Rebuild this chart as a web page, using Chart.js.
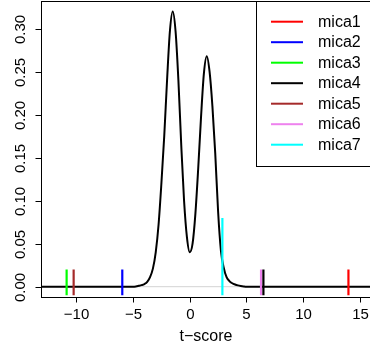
<!DOCTYPE html>
<html>
<head>
<meta charset="utf-8">
<script src="https://cdn.jsdelivr.net/npm/chart.js@4"></script>
<style>
  html, body { margin: 0; padding: 0; background: #fff; overflow: hidden; width: 370px; height: 349px; }
  #wrap { width: 380px; height: 349px; }
</style>
</head>
<body>
<div id="wrap"><canvas id="tChart" width="380" height="349"></canvas></div>
<script>
// densité des t-scores
const densX = [-14, -5, -4.75, -4.5, -4.25, -4, -3.75, -3.5, -3.25, -3, -2.75, -2.5, -2.25, -2, -1.75, -1.5,
  -1.25, -1, -0.75, -0.5, -0.25, 0, 0.25, 0.5, 0.75, 1, 1.25, 1.5, 1.75, 2, 2.25, 2.5, 2.75, 3, 3.25, 3.5,
  3.75, 4, 4.25, 4.5, 4.75, 5, 17];
const densY = [0, 0, 0.0003, 0.001, 0.0018, 0.003, 0.0055, 0.011, 0.021, 0.040, 0.072, 0.12, 0.175, 0.24, 0.297, 0.32,
  0.297, 0.24, 0.165, 0.10, 0.058, 0.040, 0.05, 0.085, 0.138, 0.198, 0.248, 0.268, 0.25, 0.21, 0.155, 0.088, 0.042, 0.022, 0.011, 0.0065,
  0.004, 0.0025, 0.0015, 0.0008, 0.0003, 0, 0];

// les micas observés
const micaNames = ['mica1', 'mica2', 'mica3', 'mica4', 'mica5', 'mica6', 'mica7'];
const micaColors = ['#ff0000', '#0000ff', '#00ff00', '#000000', '#a52a2a', '#ee82ee', '#00ffff'];
const micaT = [14.0, -5.95, -10.86, 6.5, -10.24, 6.29, 2.88];
const micaTop = [0.02, 0.02, 0.02, 0.02, 0.02, 0.02, 0.08];
const micaBottom = -0.01;

// graduations
const xTicks = [-10, -5, 0, 5, 10, 15];
const yTicks = [0, 0.05, 0.10, 0.15, 0.20, 0.25, 0.30];
const xTitle = 't\u2212score';

const FONT = '15px "Liberation Sans", Arial, sans-serif';
const FONT_BIG = '16px "Liberation Sans", Arial, sans-serif';

const datasets = [];
micaNames.forEach((name, i) => {
  datasets.push({
    label: name,
    data: [{ x: micaT[i], y: micaBottom }, { x: micaT[i], y: micaTop[i] }],
    borderColor: micaColors[i],
    borderWidth: 2.2,
    borderCapStyle: 'butt',
    order: 0
  });
});
datasets.push({
  label: 'densite',
  data: densX.map((x, i) => ({ x: x, y: densY[i] })),
  borderColor: '#000',
  borderWidth: 2,
  cubicInterpolationMode: 'monotone',
  order: 1
});
datasets.push({
  label: 'zero',
  data: [{ x: -14, y: 0 }, { x: 17, y: 0 }],
  borderColor: '#d3d3d3',
  borderWidth: 1,
  order: 2
});

// axes, cadre et légende façon R
const rAxes = {
  id: 'rAxes',
  afterDraw(chart) {
    const ctx = chart.ctx;
    const a = chart.chartArea;
    const xs = chart.scales.x, ys = chart.scales.y;
    const L = Math.floor(a.left) + 0.5, T = Math.floor(a.top) + 0.5;
    const R = Math.floor(a.right) + 0.5, B = Math.floor(a.bottom) + 0.5;
    ctx.save();
    ctx.strokeStyle = '#000';
    ctx.lineWidth = 1;
    ctx.strokeRect(L, T, R - L, B - T);

    ctx.fillStyle = '#000';
    ctx.font = FONT;
    // axe x
    ctx.textAlign = 'center';
    ctx.textBaseline = 'middle';
    xTicks.forEach(v => {
      const px = Math.round(xs.getPixelForValue(v)) + 0.5;
      ctx.beginPath();
      ctx.moveTo(px, B);
      ctx.lineTo(px, B + 5);
      ctx.stroke();
      ctx.fillText(v < 0 ? '\u2212' + Math.abs(v) : String(v), px, a.bottom + 17);
    });

    // axe y, étiquettes verticales
    yTicks.forEach(v => {
      const py = Math.round(ys.getPixelForValue(v)) + 0.5;
      ctx.beginPath();
      ctx.moveTo(L - 6, py);
      ctx.lineTo(L, py);
      ctx.stroke();
      ctx.save();
      ctx.translate(21, py);
      ctx.rotate(-Math.PI / 2);
      ctx.fillText(v.toFixed(2), 0, 0);
      ctx.restore();
    });

    ctx.font = FONT_BIG;
    ctx.fillText(xTitle, (a.left + a.right) / 2, a.bottom + 39);

    // légende
    const lx = 256.5, ly = T, lw = R - lx, lh = 165;
    ctx.fillStyle = '#fff';
    ctx.fillRect(lx, ly, lw, lh);
    ctx.strokeRect(lx, ly, lw, lh);
    ctx.textAlign = 'left';
    micaNames.forEach((name, i) => {
      const yy = 21.7 + i * 20.5;
      ctx.strokeStyle = micaColors[i];
      ctx.lineWidth = 2;
      ctx.beginPath();
      ctx.moveTo(271, yy);
      ctx.lineTo(303, yy);
      ctx.stroke();
      ctx.fillStyle = '#000';
      ctx.fillText(name, 318, yy + 0.5);
    });
    ctx.restore();
  }
};

new Chart(document.getElementById('tChart').getContext('2d'), {
  type: 'line',
  data: { datasets: datasets },
  options: {
    responsive: false,
    animation: false,
    devicePixelRatio: 1,
    layout: { padding: { left: 41, top: 1, right: 9, bottom: 51.3 } },
    elements: { point: { radius: 0 }, line: { tension: 0 } },
    plugins: { legend: { display: false }, tooltip: { enabled: false } },
    scales: {
      x: { type: 'linear', display: false, min: -13.12, max: 15.99 },
      y: { type: 'linear', display: false, min: -0.0128, max: 0.3322 }
    }
  },
  plugins: [rAxes]
});
</script>
</body>
</html>
